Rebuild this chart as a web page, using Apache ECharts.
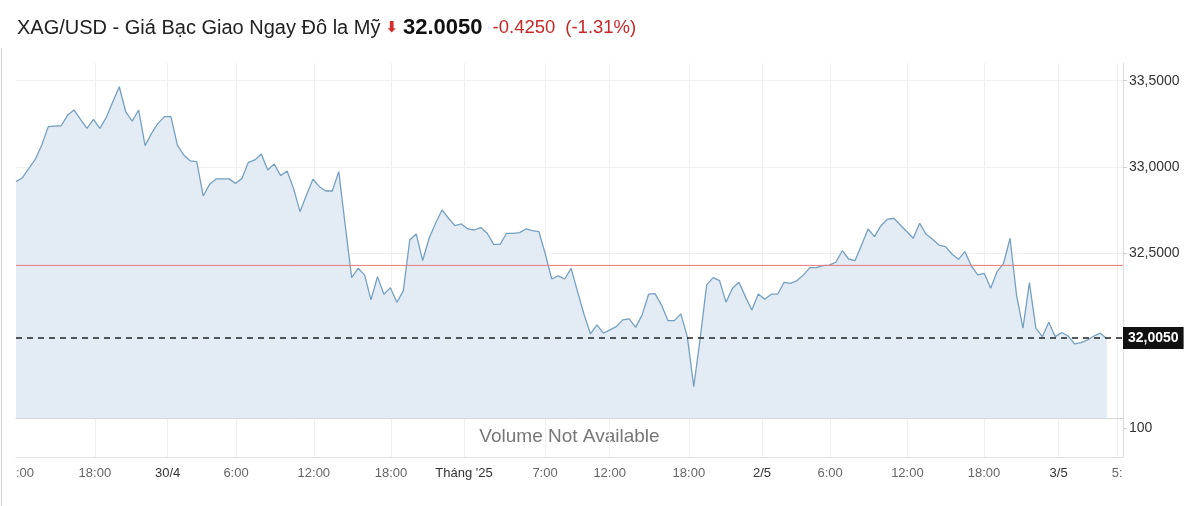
<!DOCTYPE html>
<html>
<head>
<meta charset="utf-8">
<script src="https://cdn.jsdelivr.net/npm/echarts@6/dist/echarts.min.js"></script>
<style>
html,body{margin:0;padding:0;background:#fff;}
#chart{width:1200px;height:506px;}
</style>
</head>
<body>
<div id="chart"></div>
<script>
// ---- data ----
const prices = [
 32.915,32.938,32.992,33.046,33.127,33.234,33.237,33.239,33.301,33.330,
 33.276,33.224,33.276,33.224,33.288,33.378,33.465,33.320,33.266,33.330,
 33.124,33.195,33.253,33.292,33.292,33.127,33.069,33.035,33.031,32.832,
 32.900,32.931,32.931,32.931,32.905,32.934,33.027,33.041,33.075,32.983,
 33.017,32.950,32.977,32.876,32.741,32.838,32.929,32.886,32.861,32.861,
 32.973,32.664,32.359,32.413,32.375,32.230,32.365,32.263,32.301,32.216,
 32.282,32.577,32.612,32.458,32.587,32.674,32.751,32.703,32.660,32.670,
 32.641,32.635,32.649,32.616,32.552,32.552,32.616,32.616,32.620,32.641,
 32.631,32.626,32.496,32.351,32.369,32.351,32.413,32.278,32.147,32.033,
 32.085,32.037,32.056,32.075,32.114,32.120,32.071,32.143,32.263,32.266,
 32.201,32.110,32.110,32.149,32.017,31.728,32.008,32.317,32.359,32.342,
 32.216,32.297,32.332,32.249,32.172,32.264,32.234,32.263,32.263,32.332,
 32.326,32.342,32.375,32.417,32.417,32.429,32.432,32.448,32.515,32.467,
 32.458,32.548,32.641,32.597,32.660,32.697,32.703,32.664,32.626,32.587,
 32.674,32.610,32.581,32.548,32.539,32.496,32.465,32.510,32.427,32.375,
 32.384,32.297,32.394,32.442,32.587,32.259,32.066,32.330,32.066,32.017,
 32.100,32.017,32.041,32.021,31.975,31.983,31.998,32.021,32.037,32.005
];
const lastPrice = 32.005;
const prevClose = 32.43;
const priceTicks = [32.5, 33.0, 33.5];
const volumeTicks = [100];
// x-axis tick positions (in bar-index units) and their labels
const tickPos = [1.4, 12.22, 23.49, 34.09, 46.14, 58.10, 69.41, 81.96, 91.97, 104.24, 115.57, 126.12, 138.10, 149.97, 161.53, 170.6];
const gridPos = [12.22, 23.49, 34.09, 46.14, 58.10, 69.41, 81.96, 91.97, 104.24, 115.57, 126.12, 138.10, 149.97, 161.53, 170.6];
const tickLabels = [':00', '18:00', '30/4', '6:00', '12:00', '18:00', "Tháng '25", '7:00', '12:00', '18:00', '2/5', '6:00', '12:00', '18:00', '3/5', '5:'];
const boldLabels = ['30/4', "Tháng '25", '2/5', '3/5'];

const fmt = v => v.toFixed(4).replace('.', ',');
const chart = echarts.init(document.getElementById('chart'), null, {renderer: 'canvas'});
const FONT = 'Liberation Sans, Arial, sans-serif';
const X_MAX = 171.5;

const option = {
  animation: false,
  backgroundColor: '#fff',
  textStyle: {fontFamily: FONT},
  title: {
    left: 12, top: 12,
    text: '{a|XAG/USD - Giá Bạc Giao Ngay Đô la Mỹ} {arr|⬇} {b|32.0050}  {c|-0.4250}  {c|(-1.31%)}',
    textStyle: {
      fontWeight: 'normal',
      rich: {
        a: {fontSize: 20, color: '#222', fontWeight: 'normal', fontFamily: FONT},
        arr: {fontSize: 15, color: '#d32f2f', fontWeight: 'bold', fontFamily: 'DejaVu Sans'},
        b: {fontSize: 22, fontWeight: 'bold', color: '#111', fontFamily: FONT},
        c: {fontSize: 18.5, fontWeight: 'normal', color: '#c62828', fontFamily: FONT}
      }
    }
  },
  grid: [
    {left: 16, right: 77, top: 63, bottom: 88},
    {left: 16, right: 77, top: 418, bottom: 49}
  ],
  xAxis: [
    {
      type: 'value', gridIndex: 0, min: 0, max: X_MAX,
      axisLine: {show: true, onZero: false, lineStyle: {color: '#d6d6d6'}},
      axisTick: {show: false, customValues: gridPos},
      axisLabel: {show: false},
      splitLine: {show: true, lineStyle: {color: '#f0f0f0'}}
    },
    {
      type: 'value', gridIndex: 1, min: 0, max: X_MAX,
      axisLine: {show: true, onZero: false, lineStyle: {color: '#e0e0e0'}},
      axisTick: {show: false, customValues: gridPos},
      axisLabel: {
        show: true, customValues: tickPos, margin: 10,
        fontSize: 13, color: '#666', fontFamily: FONT,
        formatter: v => {
          let i = tickPos.findIndex(p => Math.abs(p - v) < 1e-6);
          if (i < 0) return '';
          const t = tickLabels[i];
          return boldLabels.includes(t) ? '{d|' + t + '}' : t;
        },
        rich: {d: {fontSize: 13, color: '#333', fontFamily: FONT}}
      },
      splitLine: {show: true, lineStyle: {color: '#f0f0f0'}}
    }
  ],
  yAxis: [
    {
      type: 'value', gridIndex: 0, position: 'right',
      min: 31.5458, max: 33.6025,
      axisLine: {show: true, onZero: false, lineStyle: {color: '#dcdcdc'}},
      axisTick: {show: true, length: 4, lineStyle: {color: '#cfcfcf'}, customValues: priceTicks},
      axisLabel: {customValues: priceTicks, formatter: fmt, fontSize: 14, color: '#333', margin: 6, fontFamily: FONT},
      splitLine: {show: true, lineStyle: {color: '#f0f0f0'}}
    },
    {
      type: 'value', gridIndex: 1, position: 'right',
      min: 0, max: 134.5,
      axisLine: {show: true, onZero: false, lineStyle: {color: '#dcdcdc'}},
      axisTick: {show: true, length: 4, lineStyle: {color: '#cfcfcf'}, customValues: volumeTicks},
      axisLabel: {customValues: volumeTicks, fontSize: 14, color: '#333', margin: 6, fontFamily: FONT},
      splitLine: {show: false}
    }
  ],
  series: [
    {
      type: 'line', xAxisIndex: 0, yAxisIndex: 0, z: 2,
      data: prices.map((v, i) => [i, v]),
      showSymbol: false, symbol: 'none',
      lineStyle: {color: '#76a0bf', width: 1.3},
      areaStyle: {color: '#e3ecf4', opacity: 1}
    },
    {
      name: 'prevClose', type: 'line', xAxisIndex: 0, yAxisIndex: 0, z: 3,
      data: [[0, prevClose], [X_MAX, prevClose]],
      showSymbol: false, symbol: 'none', silent: true,
      lineStyle: {color: '#e87878', width: 1, type: 'solid'}
    },
    {
      name: 'last', type: 'line', xAxisIndex: 0, yAxisIndex: 0, z: 4,
      data: [], color: '#222',
      markLine: {
        silent: true, symbol: 'none',
        lineStyle: {color: '#222', type: [6, 5], width: 1.5, opacity: 1},
        label: {show: true, position: 'end', formatter: fmt(lastPrice), distance: 0,
                backgroundColor: '#111', color: '#fff', fontSize: 14, fontWeight: 'bold',
                padding: [4, 5, 4, 5], fontFamily: FONT},
        data: [{yAxis: lastPrice}]
      }
    }
  ],
  graphic: [
    {type: 'text', x: 569.5, y: 437, style: {text: 'Volume Not Available', fill: '#777', font: '19px ' + FONT, textAlign: 'center', textVerticalAlign: 'middle'}},
    {type: 'line', shape: {x1: 1.5, y1: 48, x2: 1.5, y2: 506}, style: {stroke: '#d0d0d0', lineWidth: 1}}
  ]
};
chart.setOption(option);
</script>
</body>
</html>
